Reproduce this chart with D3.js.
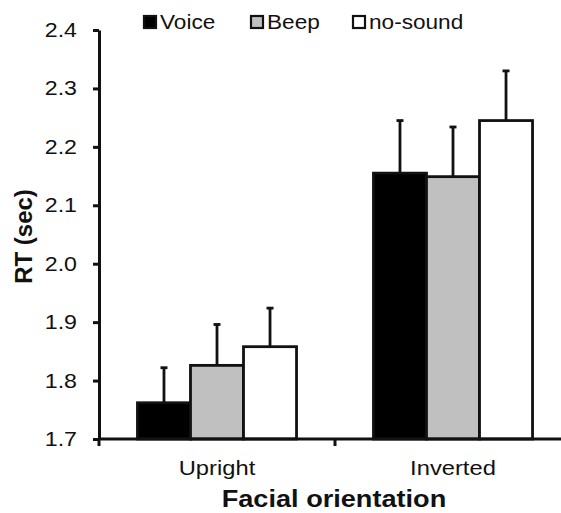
<!DOCTYPE html>
<html>
<head>
<meta charset="utf-8">
<script src="https://cdn.jsdelivr.net/npm/d3@7"></script>
<style>
  body { margin: 0; background: #fff; }
  text { font-family: "Liberation Sans", Arial, sans-serif; fill: #111; }
</style>
</head>
<body>
<script>
let categories = ["Upright", "Inverted"];
let seriesNames = ["Voice", "Beep", "no-sound"];
let voiceRT = [1.762, 2.155];
let beepRT = [1.826, 2.149];
let noSoundRT = [1.858, 2.245];
let voiceErr = [0.060, 0.090];
let beepErr = [0.070, 0.085];
let noSoundErr = [0.066, 0.085];
let yTicks = [1.7, 1.8, 1.9, 2.0, 2.1, 2.2, 2.3, 2.4];
let seriesFill = ["#000000", "#c0c0c0", "#ffffff"];

function createChart(){
    let seriesValues = [voiceRT, beepRT, noSoundRT];
    let seriesErrors = [voiceErr, beepErr, noSoundErr];
    let rows = [];
    for (let c = 0; c < categories.length; c++){
        for (let s = 0; s < seriesNames.length; s++){
            rows.push({
                category: categories[c],
                series: seriesNames[s],
                value: seriesValues[s][c],
                err: seriesErrors[s][c],
                fill: seriesFill[s]
            });
        }
    }

    let width = 561, height = 513;
    let stretch = 1.13; // the original text is a bit wide

    let svg = d3.select("body").append("svg")
      .attr("width", width)
      .attr("height", height);

    let x = d3.scaleBand()
      .domain(categories)
      .range([99, 571])
      .paddingInner(0.326)
      .paddingOuter(0.163);

    let xSub = d3.scaleBand()
      .domain(seriesNames)
      .range([0, x.bandwidth()]);

    let y = d3.scaleLinear()
      .domain([1.7, 2.4])
      .range([439, 30]);

    // bars
    let bars = svg.append("g").selectAll("g")
      .data(rows)
      .enter().append("g")
      .attr("transform", d => "translate(" + (x(d.category) + xSub(d.series)) + ",0)");

    bars.append("line")
      .attr("x1", xSub.bandwidth() / 2)
      .attr("x2", xSub.bandwidth() / 2)
      .attr("y1", d => y(d.value))
      .attr("y2", d => y(d.value + d.err))
      .attr("stroke", "#111")
      .attr("stroke-width", 2.8);

    bars.append("line")
      .attr("x1", xSub.bandwidth() / 2 - 3.5)
      .attr("x2", xSub.bandwidth() / 2 + 3.5)
      .attr("y1", d => y(d.value + d.err))
      .attr("y2", d => y(d.value + d.err))
      .attr("stroke", "#111")
      .attr("stroke-width", 2.8);

    bars.append("rect")
      .attr("x", 0)
      .attr("width", xSub.bandwidth())
      .attr("y", d => y(d.value))
      .attr("height", d => y(1.7) - y(d.value))
      .attr("fill", d => d.fill)
      .attr("stroke", "#111")
      .attr("stroke-width", 2.8);

    // y axis
    let yaxis = svg.append("g")
      .attr("transform", "translate(99,0)")
      .call(d3.axisLeft(y).tickValues(yTicks).tickFormat(d3.format(".1f"))
        .tickSize(6).tickSizeOuter(0).tickPadding(16));
    yaxis.selectAll("line, path").attr("stroke", "#111").attr("stroke-width", 3);
    yaxis.selectAll("text")
      .attr("font-size", 20.5)
      .attr("font-family", "Liberation Sans, Arial, sans-serif")
      .attr("fill", "#111");

    // x axis, ticks sit on the band edges
    let edges = categories.map(c => x(c) - x.step() * x.paddingInner() / 2);
    edges.push(x.range()[1]);
    let xaxis = svg.append("g")
      .attr("transform", "translate(0," + y(1.7) + ")");
    xaxis.append("line")
      .attr("x1", x.range()[0]).attr("x2", x.range()[1])
      .attr("stroke", "#111").attr("stroke-width", 3);
    xaxis.selectAll(".tick")
      .data(edges)
      .enter().append("line")
      .attr("x1", d => d).attr("x2", d => d)
      .attr("y1", 0).attr("y2", 7)
      .attr("stroke", "#111").attr("stroke-width", 3);
    xaxis.selectAll(".cat")
      .data(categories)
      .enter().append("text")
      .attr("class", "stretch")
      .attr("x", d => x(d) + x.bandwidth() / 2)
      .attr("y", 36)
      .attr("text-anchor", "middle")
      .attr("font-size", 21)
      .text(d => d);

    svg.append("text")
      .attr("class", "stretch")
      .attr("x", (x.range()[0] + x.range()[1]) / 2 - 1)
      .attr("y", 507)
      .attr("text-anchor", "middle")
      .attr("font-size", 24)
      .attr("font-weight", "bold")
      .text("Facial orientation");

    svg.append("text")
      .attr("transform", "translate(32," + (y(2.05) + 2) + ") rotate(-90)")
      .attr("text-anchor", "middle")
      .attr("font-size", 24)
      .attr("font-weight", "bold")
      .text("RT (sec)");

    // legend
    let legendX = [143, 250, 352];
    let legend = svg.append("g").selectAll("g")
      .data(seriesNames)
      .enter().append("g")
      .attr("transform", (d, i) => "translate(" + legendX[i] + ",15)");
    legend.append("rect")
      .attr("x", 1).attr("y", 1)
      .attr("width", 12).attr("height", 12)
      .attr("fill", (d, i) => seriesFill[i])
      .attr("stroke", "#111")
      .attr("stroke-width", 2.2);
    legend.append("text")
      .attr("class", "stretch")
      .attr("x", 17)
      .attr("y", 14)
      .attr("font-size", 20)
      .text(d => d);

    svg.selectAll("text.stretch, .tick text").each(function(){
        let w = this.getComputedTextLength();
        d3.select(this)
          .attr("textLength", w * stretch)
          .attr("lengthAdjust", "spacingAndGlyphs");
    });
}
createChart();
</script>
</body>
</html>
